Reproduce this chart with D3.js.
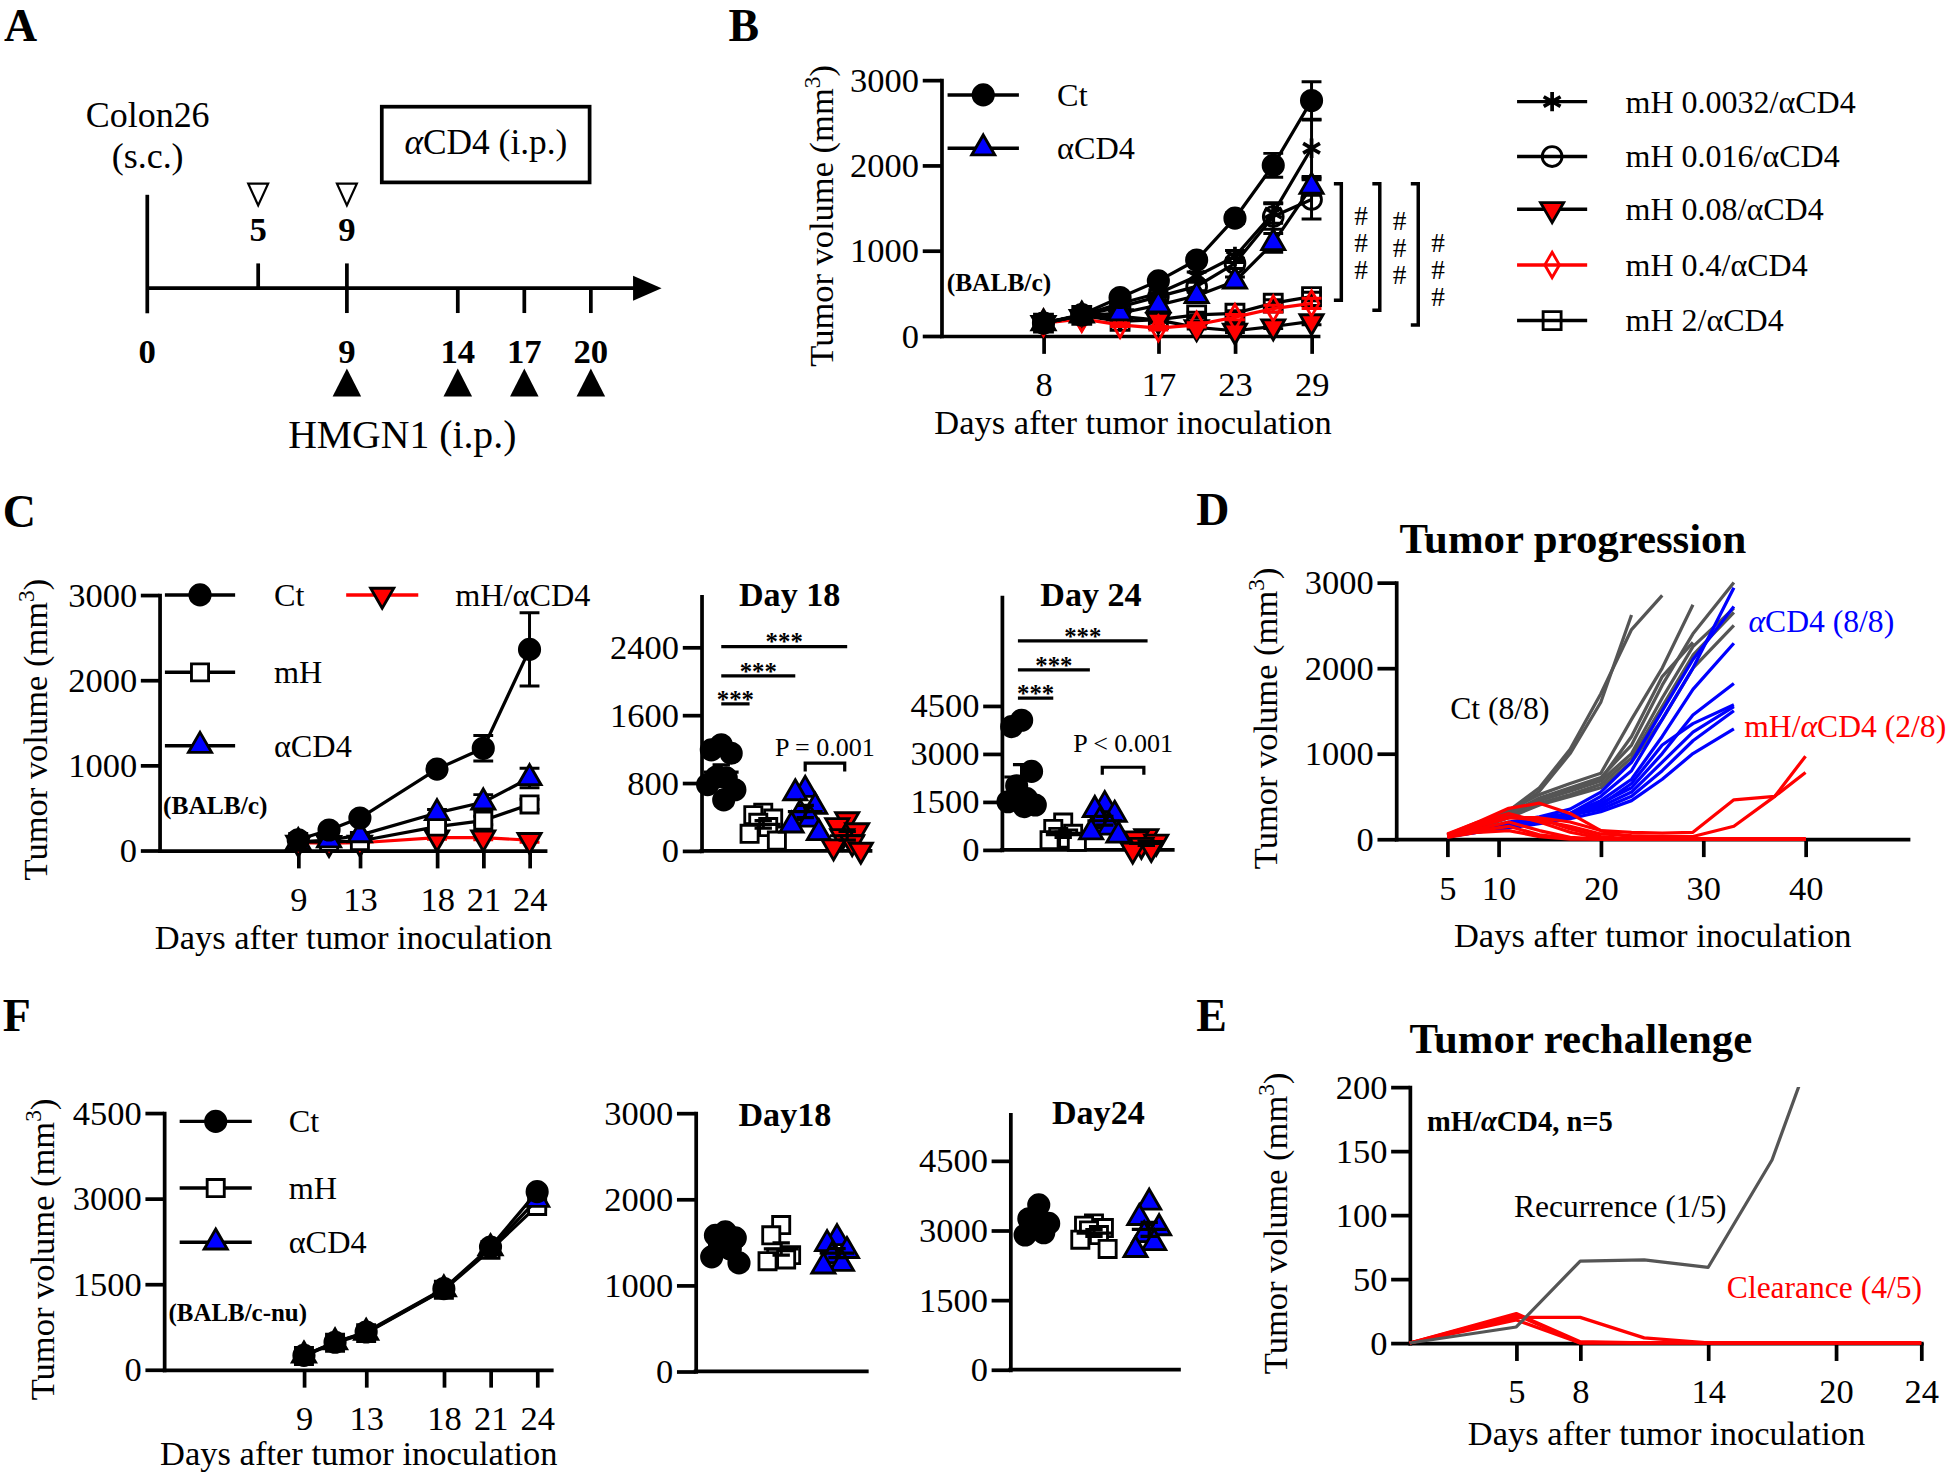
<!DOCTYPE html>
<html><head><meta charset="utf-8"><title>Tumor figure</title>
<script src="https://cdn.jsdelivr.net/npm/d3@7/dist/d3.min.js"></script>
<style>
html,body{margin:0;padding:0;background:#fff;}
svg{display:block;}
text{font-family:"Liberation Serif","Times New Roman",Times,serif;}
</style></head><body>
<svg id="fig" width="1946" height="1474" viewBox="0 0 1568 1188"></svg>
<script>
// ================= DATA =================
// Panel A: schedule
const aCD4Days = [5, 9];
const hmgnDays = [9, 14, 17, 20];

// Panel B
const daysB = [8, 11, 14, 17, 20, 23, 26, 29];
const bTicksX = [8, 17, 23, 29];
const bTicksY = [0, 1000, 2000, 3000];
const bCt = [150, 250, 450, 645, 890, 1380, 2000, 2760];
const bCtErr = [15, 20, 30, 40, 50, 60, 140, 220];
const bCD4 = [150, 240, 265, 360, 470, 640, 1090, 1750];
const bCD4Err = [15, 20, 25, 30, 40, 50, 110, 100];
const bMH0032 = [150, 240, 380, 500, 700, 930, 1440, 2200];
const bMH0032Err = [15, 20, 30, 40, 50, 70, 120, 330];
const bMH016 = [150, 240, 340, 460, 580, 850, 1400, 1600];
const bMH016Err = [15, 20, 30, 40, 50, 60, 150, 230];
const bMH008 = [150, 220, 230, 185, 100, 60, 110, 170];
const bMH008Err = [15, 20, 25, 25, 20, 20, 25, 40];
const bMH04 = [150, 200, 130, 90, 130, 220, 320, 380];
const bMH04Err = [15, 20, 20, 20, 25, 30, 40, 60];
const bMH2 = [150, 240, 170, 190, 246, 265, 383, 461];
const bMH2Err = [15, 20, 20, 25, 30, 30, 40, 50];
const bBrackets = [[418, 1785], [301, 1785], [127, 1785]];

// Panel C (line plot)
const daysC = [9, 11, 13, 18, 21, 24];
const cTicksX = [9, 13, 18, 21, 24];
const cTicksY = [0, 1000, 2000, 3000];
const cCt = [125, 240, 380, 955, 1200, 2360];
const cCtErr = [15, 25, 40, 50, 150, 430];
const cMH = [100, 100, 110, 280, 350, 540];
const cMHErr = [10, 10, 15, 30, 50, 60];
const cCD4 = [100, 120, 180, 440, 565, 850];
const cCD4Err = [10, 15, 20, 40, 90, 115];
const cMHCD4 = [90, 85, 90, 150, 150, 120];
const cMHCD4Err = [10, 10, 10, 20, 25, 25];
// Panel C dot plots
const groupsC = ['Ct', 'mH', 'αCD4', 'mH/αCD4'];
const c18Ticks = [0, 800, 1600, 2400];
const c18Ct = [1250, 1190, 1150, 870, 860, 780, 720, 600];
const c18MH = [450, 420, 380, 330, 280, 200, 120];
const c18CD4 = [720, 680, 520, 440, 370, 300, 210];
const c18MHCD4 = [370, 300, 240, 170, 100, 50, 10];
const c18Sig = [2408, 2062, 1732];
const c18Bracket = [1033, 935];
const c24Ticks = [0, 1500, 3000, 4500];
const c24Ct = [4050, 3850, 2450, 2000, 1600, 1500, 1400, 1350];
const c24MH = [850, 650, 500, 400, 350, 300, 250];
const c24CD4 = [1400, 1250, 1100, 900, 700, 550, 450];
const c24MHCD4 = [420, 350, 250, 150, 50, 0];
const c24Sig = [6530, 5625, 4740];
const c24Bracket = [2580, 2345];

// Panel D (individual mice)
const daysD = [5, 8, 11, 14, 17, 20, 23, 26, 29, 33, 37, 40];
const dTicksX = [5, 10, 20, 30, 40];
const dTicksY = [0, 1000, 2000, 3000];
const dCt = [
  [50, 160, 330, 600, 1050, 1700, 2450, 2850],
  [40, 130, 300, 560, 1000, 1600, 2620],
  [50, 170, 340, 520, 650, 770, 1400, 2000, 2740],
  [50, 160, 300, 480, 600, 720, 1100, 1800, 2400, 3000],
  [40, 150, 280, 450, 560, 680, 1000, 1650, 2250, 2700],
  [50, 140, 260, 420, 520, 640, 950, 1550, 2150, 2650],
  [40, 120, 250, 400, 500, 600, 900, 1400, 2000, 2500],
  [50, 150, 290, 470, 580, 700, 1200, 1900, 2300]
];
const dCD4 = [
  [30, 100, 180, 250, 300, 500, 800, 1400, 2000, 2940],
  [30, 100, 200, 260, 350, 550, 900, 1500, 2100, 2720],
  [30, 90, 150, 200, 300, 450, 700, 1200, 1750, 2290],
  [30, 100, 170, 230, 280, 420, 600, 1000, 1450, 1820],
  [30, 80, 150, 200, 260, 400, 650, 1100, 1350, 1570],
  [30, 90, 160, 220, 300, 380, 550, 900, 1250, 1550],
  [30, 80, 130, 180, 240, 320, 450, 700, 1000, 1290],
  [30, 100, 180, 240, 280, 350, 500, 800, 1150, 1500]
];
const dMHCD4 = [
  [50, 200, 360, 420, 300, 100, 80, 70, 80, 460, 500, 780],
  [40, 180, 260, 220, 150, 60, 40, 30, 30, 150, 500, 970],
  [50, 150, 250, 240, 120, 30, 0, 0, 0, 0, 0, 0],
  [30, 120, 200, 100, 20, 0, 0, 0, 0, 0, 0, 0],
  [60, 200, 300, 200, 80, 10, 0, 0, 0, 0, 0, 0],
  [30, 100, 150, 50, 10, 0, 0, 0, 0, 0, 0, 0],
  [40, 150, 250, 250, 200, 100, 20, 0, 0, 0, 0, 0],
  [20, 80, 100, 30, 0, 0, 0, 0, 0, 0, 0, 0]
];

// Panel E (rechallenge)
const daysE = [0, 5, 8, 11, 14, 17, 20, 24];
const eTicksX = [5, 8, 14, 20, 24];
const eTicksY = [0, 50, 100, 150, 200];
const eRecurrence = [0, 12.5, 64, 65, 59, 143, 280];
const eClearance = [
  [0, 23, 1, 0, 0, 0, 0, 0],
  [0, 20, 20, 4, 0, 0, 0, 0],
  [0, 22, 0, 0, 0, 0, 0, 0],
  [0, 18, 0, 0, 0, 0, 0, 0]
];

// Panel F (nude mice)
const daysF = [9, 11, 13, 18, 21, 24];
const fTicksX = [9, 13, 18, 21, 24];
const fTicksY = [0, 1500, 3000, 4500];
const fCt = [250, 480, 660, 1420, 2150, 3120];
const fMH = [240, 470, 640, 1400, 2100, 2870];
const fCD4 = [250, 480, 650, 1410, 2130, 2980];
const fErr = [20, 25, 30, 40, 50, 60];
const groupsF = ['Ct', 'mH', 'αCD4'];
const f18Ticks = [0, 1000, 2000, 3000];
const f18Ct = [1620, 1580, 1550, 1480, 1420, 1330, 1260];
const f18MH = [1700, 1580, 1350, 1320, 1300, 1280];
const f18CD4 = [1550, 1480, 1400, 1340, 1250, 1220];
const f24Ticks = [0, 1500, 3000, 4500];
const f24Ct = [3550, 3250, 3150, 3050, 2950, 2900];
const f24MH = [3150, 3100, 3050, 3000, 2900, 2800, 2600];
const f24CD4 = [3600, 3270, 3050, 2900, 2730, 2580];

// ================= DRAWING =================
const FS = 27.8;
const BLUE = '#0000ff', RED = '#ff0000', GRAY = '#555555';
const svg = d3.select('#fig');
const jitter = [0, -8, 8, -4, 4, -11, 11, 2];

const asterisk = {
  draw(ctx, size) {
    const r = Math.sqrt(size) * 0.6;
    for (let k = 0; k < 3; k++) {
      const a = Math.PI / 2 + k * Math.PI / 3;
      ctx.moveTo(r * Math.cos(a), r * Math.sin(a));
      ctx.lineTo(-r * Math.cos(a), -r * Math.sin(a));
    }
  }
};

const S = {
  ct:    {sym: d3.symbolCircle, size: 210, fill: '#000', stroke: '#000', line: '#000'},
  mh:    {sym: d3.symbolSquare, size: 190, fill: '#fff', stroke: '#000', line: '#000'},
  cd4:   {sym: d3.symbolTriangle, size: 150, fill: BLUE, stroke: '#000', line: '#000'},
  mhcd4: {sym: d3.symbolTriangle, size: 150, fill: RED, stroke: '#000', line: RED, rot: 180},
  m0032: {sym: asterisk, size: 170, fill: 'none', stroke: '#000', line: '#000', sw: 3},
  m016:  {sym: d3.symbolCircle, size: 200, fill: 'none', stroke: '#000', line: '#000'},
  m008:  {sym: d3.symbolTriangle, size: 150, fill: RED, stroke: '#000', line: '#000', rot: 180},
  m04:   {sym: d3.symbolDiamond, size: 120, fill: 'none', stroke: RED, line: RED},
  m2:    {sym: d3.symbolSquare, size: 210, fill: 'none', stroke: '#000', line: '#000'}
};

function T(g, x, y, s, o = {}) {
  return g.append('text').attr('x', x).attr('y', y).text(s)
    .attr('font-size', o.fs || FS)
    .attr('font-weight', o.bold ? 'bold' : 'normal')
    .attr('font-style', o.italic ? 'italic' : 'normal')
    .attr('text-anchor', o.anchor || 'start')
    .attr('fill', o.fill || '#000');
}
function R(g, x, y, parts, o = {}) {
  const t = g.append('text').attr('x', x).attr('y', y)
    .attr('font-size', o.fs || FS).attr('font-weight', o.bold ? 'bold' : 'normal')
    .attr('text-anchor', o.anchor || 'start').attr('fill', o.fill || '#000');
  parts.forEach(p => t.append('tspan').text(p[0]).attr('font-style', p[1] ? 'italic' : 'normal'));
  return t;
}
function yLabel(g, bx, cy) {
  const t = g.append('text').attr('transform', `translate(${bx},${cy}) rotate(-90)`)
    .attr('text-anchor', 'middle').attr('font-size', FS).attr('fill', '#000');
  t.append('tspan').text('Tumor volume (mm');
  t.append('tspan').attr('dy', -FS * 0.38).attr('font-size', FS * 0.68).text('3');
  t.append('tspan').attr('dy', FS * 0.38).text(')');
}
function xLabel(g, cx, by) {
  T(g, cx, by, 'Days after tumor inoculation', {anchor: 'middle'});
}
function styleAx(ax) {
  ax.attr('font-family', '"Liberation Serif","Times New Roman",serif').attr('font-size', FS);
  ax.select('.domain').attr('stroke', '#000').attr('stroke-width', 3).attr('stroke-linecap', 'square');
  ax.selectAll('.tick line').attr('stroke', '#000').attr('stroke-width', 3);
  ax.selectAll('.tick text').attr('fill', '#000');
}
function yAxis(g, y, x0, ticks) {
  const ax = g.append('g').attr('transform', `translate(${x0},0)`)
    .call(d3.axisLeft(y).tickValues(ticks).tickSize(15).tickSizeOuter(0).tickPadding(3).tickFormat(d3.format('d')));
  styleAx(ax);
  return ax;
}
function xAxis(g, x, y0, ticks) {
  const ax = g.append('g').attr('transform', `translate(0,${y0})`)
    .call(d3.axisBottom(x).tickValues(ticks).tickSize(14.5).tickSizeOuter(0).tickPadding(14.5).tickFormat(d3.format('d')));
  styleAx(ax);
  return ax;
}
function marker(g, cx, cy, st) {
  g.append('path')
    .attr('transform', `translate(${cx},${cy})` + (st.rot ? ` rotate(${st.rot})` : ''))
    .attr('d', d3.symbol().type(st.sym).size(st.size)())
    .attr('fill', st.fill).attr('stroke', st.stroke).attr('stroke-width', st.sw || 2.3)
    .attr('stroke-linejoin', 'miter');
}
function series(g, x, y, days, vals, errs, st) {
  const pts = vals.map((v, i) => ({px: x(days[i]), py: y(v), v: v, e: errs ? errs[i] : 0}));
  g.append('path').attr('d', d3.line().x(p => p.px).y(p => p.py)(pts))
    .attr('fill', 'none').attr('stroke', st.line).attr('stroke-width', 2.6).attr('stroke-linejoin', 'round');
  pts.forEach(p => {
    if (!p.e) return;
    const y1 = y(p.v + p.e), y2 = y(Math.max(0, p.v - p.e));
    g.append('path').attr('d', `M${p.px},${y1}V${y2}M${p.px - 8},${y1}H${p.px + 8}M${p.px - 8},${y2}H${p.px + 8}`)
      .attr('stroke', st.line).attr('stroke-width', 2.4).attr('fill', 'none');
  });
  pts.forEach(p => marker(g, p.px, p.py, st));
}
function legend(g, x1, x2, y, label, st, tx, fs = 26) {
  g.append('line').attr('x1', x1).attr('x2', x2).attr('y1', y).attr('y2', y)
    .attr('stroke', st.line).attr('stroke-width', 2.8);
  marker(g, (x1 + x2) / 2, y, st);
  T(g, tx, y + fs * 0.34, label, {fs: fs});
}
function dotGroup(g, xc, y, vals, st) {
  vals.forEach((v, i) => marker(g, xc + jitter[i % jitter.length], y(v), st));
  const m = d3.mean(vals), se = d3.deviation(vals) / Math.sqrt(vals.length);
  g.append('path')
    .attr('d', `M${xc - 14},${y(m)}H${xc + 14}M${xc},${y(m + se)}V${y(Math.max(0, m - se))}M${xc - 7},${y(m + se)}H${xc + 7}M${xc - 7},${y(Math.max(0, m - se))}H${xc + 7}`)
    .attr('stroke', '#000').attr('stroke-width', 2.6).attr('fill', 'none');
}
function dotFrame(g, ax, y, ticks, end, title, titleY) {
  yAxis(g, y, ax, ticks);
  g.append('line').attr('x1', ax).attr('x2', end).attr('y1', y(0)).attr('y2', y(0))
    .attr('stroke', '#000').attr('stroke-width', 3).attr('stroke-linecap', 'square');
  T(g, (ax + end) / 2 + 3, titleY, title, {bold: true, anchor: 'middle', fs: 27.5});
}
function sigLine(g, x1, x2, yv, label) {
  g.append('line').attr('x1', x1).attr('x2', x2).attr('y1', yv).attr('y2', yv)
    .attr('stroke', '#000').attr('stroke-width', 2.6);
  T(g, (x1 + x2) / 2, yv + 3, label, {bold: true, anchor: 'middle', fs: 20});
}
function bracket(g, x1, x2, yTop, yBot, label, labelY) {
  g.append('path').attr('d', `M${x1},${yBot}V${yTop}H${x2}V${yBot}`)
    .attr('stroke', '#000').attr('stroke-width', 2.6).attr('fill', 'none');
  T(g, (x1 + x2) / 2, labelY, label, {anchor: 'middle', fs: 21});
}

// ---------- panel letters ----------
[['A', 3, 33], ['B', 587, 33], ['C', 2, 425], ['D', 964, 423], ['F', 2, 831], ['E', 964, 831]]
  .forEach(d => T(svg, d[1], d[2], d[0], {bold: true, fs: 37}));

// ---------- PANEL A ----------
{
  const g = svg.append('g');
  const x = d3.scaleLinear().domain([0, 20]).range([118.5, 476]);
  const ay = 232.3;
  g.append('line').attr('x1', x(0)).attr('x2', x(0)).attr('y1', 157).attr('y2', 252.5).attr('stroke', '#000').attr('stroke-width', 3);
  g.append('line').attr('x1', x(0)).attr('x2', 512).attr('y1', ay).attr('y2', ay).attr('stroke', '#000').attr('stroke-width', 3);
  g.append('path').attr('d', `M510,${ay - 10}L533,${ay}L510,${ay + 10}Z`).attr('fill', '#000');
  aCD4Days.forEach(d => {
    g.append('line').attr('x1', x(d)).attr('x2', x(d)).attr('y1', ay).attr('y2', ay - 20).attr('stroke', '#000').attr('stroke-width', 3);
    T(g, x(d), 194, String(d), {bold: true, anchor: 'middle', fs: 28});
    g.append('path').attr('d', `M${x(d) - 8},148L${x(d) + 8},148L${x(d)},165.5Z`).attr('fill', '#fff').attr('stroke', '#000').attr('stroke-width', 1.8);
  });
  hmgnDays.forEach(d => {
    g.append('line').attr('x1', x(d)).attr('x2', x(d)).attr('y1', ay).attr('y2', ay + 20).attr('stroke', '#000').attr('stroke-width', 3);
    T(g, x(d), 292.8, String(d), {bold: true, anchor: 'middle', fs: 28});
    g.append('path').attr('d', `M${x(d)},297L${x(d) + 11.5},319.6L${x(d) - 11.5},319.6Z`).attr('fill', '#000');
  });
  T(g, x(0), 292.8, '0', {bold: true, anchor: 'middle', fs: 28});
  T(g, 118.8, 102.5, 'Colon26', {anchor: 'middle', fs: 29});
  T(g, 118.8, 135.5, '(s.c.)', {anchor: 'middle', fs: 29});
  g.append('rect').attr('x', 307.5).attr('y', 86).attr('width', 167.5).attr('height', 61)
    .attr('fill', 'none').attr('stroke', '#000').attr('stroke-width', 3);
  R(g, 391.4, 124.5, [['α', true], ['CD4 (i.p.)', false]], {anchor: 'middle', fs: 28.5});
  T(g, 324, 361, 'HMGN1 (i.p.)', {anchor: 'middle', fs: 32});
}

// ---------- PANEL B ----------
{
  const g = svg.append('g');
  const x = d3.scaleLinear().domain([0, 29.5]).range([758.5, 1062]);
  const y = d3.scaleLinear().domain([0, 3000]).range([270.7, 64.5]);
  yAxis(g, y, 758.5, bTicksY);
  xAxis(g, x, 270.7, bTicksX);
  yLabel(g, 671.5, 174);
  xLabel(g, 913, 350);
  T(g, 762.8, 234.5, '(BALB/c)', {bold: true, fs: 20.5});
  series(g, x, y, daysB, bMH2, bMH2Err, S.m2);
  series(g, x, y, daysB, bMH008, bMH008Err, S.m008);
  series(g, x, y, daysB, bMH04, bMH04Err, S.m04);
  series(g, x, y, daysB, bMH016, bMH016Err, S.m016);
  series(g, x, y, daysB, bMH0032, bMH0032Err, S.m0032);
  series(g, x, y, daysB, bCD4, bCD4Err, S.cd4);
  series(g, x, y, daysB, bCt, bCtErr, S.ct);
  // brackets with ###
  bBrackets.forEach((b, k) => {
    const bx = x(29) + 24 + k * 31;
    const yt = y(b[1]), yb = y(b[0]);
    g.append('path').attr('d', `M${bx - 6},${yt}H${bx}V${yb}H${bx - 6}`)
      .attr('stroke', '#000').attr('stroke-width', 2.8).attr('fill', 'none');
    const mid = (yt + yb) / 2 + (k === 2 ? 12 : 0);
    [-1, 0, 1].forEach(j => T(g, bx + 16, mid + j * 21.7 + 8, '#', {anchor: 'middle', fs: 22}));
  });
  // legends
  legend(g, 763.5, 821, 76.5, 'Ct', S.ct, 851.8);
  legend(g, 763.5, 821, 119.5, 'αCD4', S.cd4, 851.8);
  const rl = [['mH 0.0032/αCD4', S.m0032, 81.9], ['mH 0.016/αCD4', S.m016, 126.2], ['mH 0.08/αCD4', S.m008, 168.7],
              ['mH 0.4/αCD4', S.m04, 213.5], ['mH 2/αCD4', S.m2, 258.4]];
  rl.forEach(d => legend(g, 1222.5, 1279, d[2], d[0], d[1], 1310, 25.8));
}

// ---------- PANEL C (line) ----------
{
  const g = svg.append('g');
  const x = d3.scaleLinear().domain([0, 25]).range([128.3, 439]);
  const y = d3.scaleLinear().domain([0, 3000]).range([685.4, 479.5]);
  yAxis(g, y, 128.3, cTicksY);
  xAxis(g, x, 685.4, cTicksX);
  yLabel(g, 37.5, 588);
  xLabel(g, 284.7, 765);
  T(g, 131.2, 655.7, '(BALB/c)', {bold: true, fs: 20.5});
  series(g, x, y, daysC, cMHCD4, cMHCD4Err, S.mhcd4);
  series(g, x, y, daysC, cMH, cMHErr, S.mh);
  series(g, x, y, daysC, cCD4, cCD4Err, S.cd4);
  series(g, x, y, daysC, cCt, cCtErr, S.ct);
  legend(g, 132.7, 189.3, 479.5, 'Ct', S.ct, 220.6);
  legend(g, 132.7, 189.3, 541.9, 'mH', S.mh, 220.6);
  legend(g, 132.7, 189.3, 601, 'αCD4', S.cd4, 220.6);
  legend(g, 278.8, 336.9, 479.5, 'mH/αCD4', S.mhcd4, 366.7);
}

// ---------- PANEL C Day 18 ----------
{
  const g = svg.append('g');
  const ax = 565.1;
  const y = d3.scaleLinear().domain([0, 3000]).range([685.7, 480.6]);
  const gx = d3.scalePoint().domain(groupsC).range([ax + 16, ax + 117.5]);
  dotFrame(g, ax, y, c18Ticks, 701.4, 'Day 18', 488.5);
  dotGroup(g, gx('Ct'), y, c18Ct, S.ct);
  dotGroup(g, gx('mH'), y, c18MH, S.mh);
  dotGroup(g, gx('αCD4'), y, c18CD4, S.cd4);
  dotGroup(g, gx('mH/αCD4'), y, c18MHCD4, S.mhcd4);
  sigLine(g, gx('Ct'), gx('mH/αCD4'), y(c18Sig[0]), '***');
  sigLine(g, gx('Ct'), gx('αCD4') - 8, y(c18Sig[1]), '***');
  sigLine(g, gx('Ct'), gx('mH') - 11, y(c18Sig[2]), '***');
  bracket(g, gx('αCD4'), gx('mH/αCD4') - 2, y(c18Bracket[0]), y(c18Bracket[1]), 'P = 0.001', 609.5);
}

// ---------- PANEL C Day 24 ----------
{
  const g = svg.append('g');
  const ax = 807.2;
  const y = d3.scaleLinear().domain([0, 7900]).range([684.9, 481.2]);
  const gx = d3.scalePoint().domain(groupsC).range([ax + 16, ax + 116.5]);
  dotFrame(g, ax, y, c24Ticks, 945, 'Day 24', 488.5);
  dotGroup(g, gx('Ct'), y, c24Ct, S.ct);
  dotGroup(g, gx('mH'), y, c24MH, S.mh);
  dotGroup(g, gx('αCD4'), y, c24CD4, S.cd4);
  dotGroup(g, gx('mH/αCD4'), y, c24MHCD4, S.mhcd4);
  sigLine(g, gx('Ct') - 3, gx('mH/αCD4') + 1, y(c24Sig[0]), '***');
  sigLine(g, gx('Ct') - 3, gx('αCD4') - 12, y(c24Sig[1]), '***');
  sigLine(g, gx('Ct') - 3, gx('mH') - 8, y(c24Sig[2]), '***');
  bracket(g, gx('αCD4') - 2, gx('mH/αCD4') - 2, y(c24Bracket[0]), y(c24Bracket[1]), 'P < 0.001', 606);
}

// ---------- PANEL D ----------
{
  const g = svg.append('g');
  const x = d3.scaleLinear().domain([0, 50]).range([1125, 1537.5]);
  const y = d3.scaleLinear().domain([0, 3000]).range([676.3, 469.5]);
  yAxis(g, y, 1125, dTicksY);
  xAxis(g, x, 676.3, dTicksX);
  yLabel(g, 1029, 579);
  xLabel(g, 1331.8, 763);
  T(g, 1267.5, 446, 'Tumor progression', {bold: true, anchor: 'middle', fs: 34.5});
  const ln = d3.line().x((d, i) => x(daysD[i])).y(d => y(d));
  const draw = (arr, col) => arr.forEach(v => g.append('path').attr('d', ln(v)).attr('fill', 'none')
    .attr('stroke', col).attr('stroke-width', 2.6).attr('stroke-linejoin', 'round'));
  draw(dCt, GRAY);
  draw(dCD4, BLUE);
  draw(dMHCD4, RED);
  T(g, 1168.6, 579.5, 'Ct (8/8)', {fs: 25.5});
  R(g, 1409, 509.5, [['α', true], ['CD4 (8/8)', false]], {fs: 25.5, fill: BLUE});
  R(g, 1405.6, 594, [['mH/', false], ['α', true], ['CD4 (2/8)', false]], {fs: 25.5, fill: RED});
}

// ---------- PANEL E ----------
{
  const g = svg.append('g');
  const x = d3.scaleLinear().domain([0, 24]).range([1136, 1548.2]);
  const y = d3.scaleLinear().domain([0, 200]).range([1082.4, 876.1]);
  yAxis(g, y, 1136, eTicksY);
  xAxis(g, x, 1082.4, eTicksX);
  yLabel(g, 1037, 986);
  xLabel(g, 1343, 1165);
  T(g, 1273.9, 849, 'Tumor rechallenge', {bold: true, anchor: 'middle', fs: 34.5});
  svg.append('clipPath').attr('id', 'clipE').append('rect')
    .attr('x', x(0) - 5).attr('y', y(200)).attr('width', x(24) - x(0) + 10).attr('height', y(0) - y(200) + 5);
  const ln = d3.line().x((d, i) => x(daysE[i])).y(d => y(d));
  const pe = g.append('g').attr('clip-path', 'url(#clipE)');
  eClearance.forEach(v => pe.append('path').attr('d', ln(v)).attr('fill', 'none')
    .attr('stroke', RED).attr('stroke-width', 2.6).attr('stroke-linejoin', 'round'));
  pe.append('path').attr('d', ln(eRecurrence)).attr('fill', 'none')
    .attr('stroke', GRAY).attr('stroke-width', 2.6).attr('stroke-linejoin', 'round');
  R(g, 1150, 911.5, [['mH/', false], ['α', true], ['CD4, n=5', false]], {fs: 23, bold: true});
  T(g, 1220, 981, 'Recurrence (1/5)', {fs: 25.4});
  T(g, 1391.6, 1046.5, 'Clearance (4/5)', {fs: 25.4, fill: RED});
}

// ---------- PANEL F (line) ----------
{
  const g = svg.append('g');
  const x = d3.scaleLinear().domain([0, 24.9]).range([132, 444]);
  const y = d3.scaleLinear().domain([0, 4500]).range([1103.9, 897]);
  yAxis(g, y, 132, fTicksY);
  xAxis(g, x, 1103.9, fTicksX);
  yLabel(g, 43, 1007);
  xLabel(g, 289, 1181);
  T(g, 135.6, 1065, '(BALB/c-nu)', {bold: true, fs: 20.1});
  series(g, x, y, daysF, fMH, fErr, S.mh);
  series(g, x, y, daysF, fCD4, fErr, S.cd4);
  series(g, x, y, daysF, fCt, fErr, S.ct);
  legend(g, 144.6, 202.7, 903.8, 'Ct', S.ct, 232.5);
  legend(g, 144.6, 202.7, 957.5, 'mH', S.mh, 232.5);
  legend(g, 144.6, 202.7, 1001.3, 'αCD4', S.cd4, 232.5);
}

// ---------- PANEL F Day18 ----------
{
  const g = svg.append('g');
  const ax = 560.4;
  const y = d3.scaleLinear().domain([0, 3000]).range([1105.3, 897.1]);
  const gx = d3.scalePoint().domain(groupsF).range([ax + 24, ax + 114]);
  dotFrame(g, ax, y, f18Ticks, 698.4, 'Day18', 907.4);
  dotGroup(g, gx('Ct'), y, f18Ct, S.ct);
  dotGroup(g, gx('mH'), y, f18MH, S.mh);
  dotGroup(g, gx('αCD4'), y, f18CD4, S.cd4);
}

// ---------- PANEL F Day24 ----------
{
  const g = svg.append('g');
  const ax = 814;
  const y = d3.scaleLinear().domain([0, 5500]).range([1103.9, 898.1]);
  const gx = d3.scalePoint().domain(groupsF).range([ax + 23, ax + 112]);
  dotFrame(g, ax, y, f24Ticks, 950, 'Day24', 906);
  dotGroup(g, gx('Ct'), y, f24Ct, S.ct);
  dotGroup(g, gx('mH'), y, f24MH, S.mh);
  dotGroup(g, gx('αCD4'), y, f24CD4, S.cd4);
}
</script></body></html>
